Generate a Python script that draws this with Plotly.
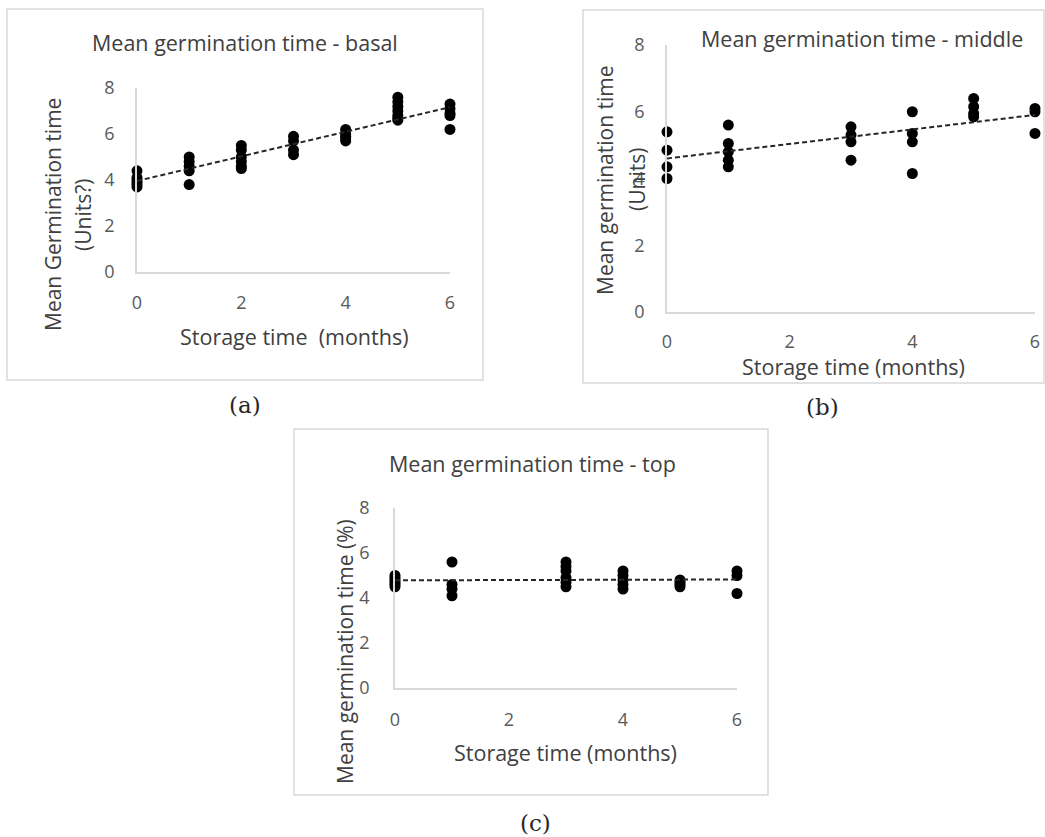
import numpy as np
import plotly.graph_objects as go

# ---------------- data ----------------
# (a) basal
basal_x = [0]*6 + [1]*5 + [2]*6 + [3]*4 + [4]*5 + [5]*7 + [6]*5
basal_y = [4.4, 4.1, 3.9, 3.8, 3.7, 4.0,
           5.0, 4.8, 4.6, 4.4, 3.8,
           5.5, 5.3, 5.0, 4.8, 4.6, 4.5,
           5.9, 5.7, 5.3, 5.1,
           6.2, 6.0, 5.9, 5.8, 5.7,
           7.6, 7.4, 7.2, 7.0, 6.8, 6.7, 6.6,
           7.3, 7.1, 6.9, 6.8, 6.2]
# (b) middle
middle_x = [0]*4 + [1]*5 + [3]*4 + [4]*4 + [5]*4 + [6]*3
middle_y = [5.4, 4.85, 4.35, 4.0,
            5.6, 5.05, 4.8, 4.55, 4.35,
            5.55, 5.3, 5.1, 4.55,
            6.0, 5.35, 5.1, 4.15,
            6.4, 6.15, 5.95, 5.85,
            6.1, 6.0, 5.35]
# (c) top
top_x = [0]*6 + [1]*4 + [3]*6 + [4]*5 + [5]*4 + [6]*3
top_y = [5.0, 4.9, 4.8, 4.7, 4.6, 4.5,
         5.6, 4.6, 4.4, 4.1,
         5.6, 5.4, 5.2, 4.9, 4.7, 4.5,
         5.2, 5.0, 4.8, 4.6, 4.4,
         4.8, 4.7, 4.6, 4.5,
         5.2, 5.0, 4.2]

x_ticks = [0, 2, 4, 6]
y_ticks = [0, 2, 4, 6, 8]

titles = ["Mean germination time - basal",
          "Mean germination time - middle",
          "Mean germination time - top"]
x_titles = ["Storage time  (months)", "Storage time (months)", "Storage time (months)"]
y_titles = [["Mean Germination time", "(Units?)"],
            ["Mean germination time", "(Units)"],
            ["Mean germination time (%)"]]
panel_labels = ["(a)", "(b)", "(c)"]

# ---------------- layout helpers ----------------
W, H = 1045, 837
def px(x):
    return x / W
def py(y):
    return 1 - y / H

FONT = "Open Sans"
TXT = "#404040"
TICK = "#595959"
AX = "#d9d9d9"

fig = go.Figure()

series = [(basal_x, basal_y), (middle_x, middle_y), (top_x, top_y)]
axes_ids = ["", "2", "3"]
for (xs, ys), aid in zip(series, axes_ids):
    fig.add_trace(go.Scatter(x=xs, y=ys, mode="markers",
                             marker=dict(color="black", size=11),
                             xaxis="x" + aid, yaxis="y" + aid,
                             cliponaxis=False, showlegend=False))
    slope, icpt = np.polyfit(xs, ys, 1)
    xl = np.array([min(xs), max(xs)], dtype=float)
    fig.add_trace(go.Scatter(x=xl, y=icpt + slope * xl, mode="lines",
                             line=dict(color="#262626", width=2, dash="5px,3px"),
                             xaxis="x" + aid, yaxis="y" + aid,
                             cliponaxis=False, showlegend=False))

# plot-area geometry in pixels: (left, right, bottom, top)
geo = [(137, 450, 272, 88), (667, 1035, 312, 45), (395, 737, 688, 508)]
ystand = [17, 17, 20]
xstand = [14, 13, 15]

layout = dict(width=W, height=H, margin=dict(l=0, r=0, t=0, b=0, autoexpand=False),
              paper_bgcolor="white", plot_bgcolor="white",
              font=dict(family=FONT, color=TXT))
for i, (aid, g) in enumerate(zip(["", "2", "3"], geo)):
    l, r, b, t = g
    layout["xaxis" + aid] = dict(domain=[px(l), px(r)], range=[0, 6],
                                 anchor="y" + aid, tickvals=x_ticks,
                                 showgrid=False, zeroline=False, automargin=False,
                                 showline=True, linecolor=AX, linewidth=1.5,
                                 ticks="", ticklabelstandoff=xstand[i],
                                 tickfont=dict(size=18, color=TICK, family=FONT),
                                 fixedrange=True)
    layout["yaxis" + aid] = dict(domain=[py(b), py(t)], range=[0, 8],
                                 anchor="x" + aid, tickvals=y_ticks,
                                 showgrid=False, zeroline=False, automargin=False,
                                 showline=True, linecolor=AX, linewidth=1.5,
                                 ticks="", ticklabelstandoff=ystand[i],
                                 tickfont=dict(size=18, color=TICK, family=FONT),
                                 fixedrange=True)
fig.update_layout(**layout)

# panel boxes
boxes = [(7, 9, 483, 380), (583, 10, 1044, 383), (294, 429, 768, 795)]
for x0, y0, x1, y1 in boxes:
    fig.add_shape(type="rect", xref="paper", yref="paper",
                  x0=px(x0), x1=px(x1), y0=py(y1), y1=py(y0),
                  line=dict(color=AX, width=1.5), fillcolor="rgba(0,0,0,0)")

# titles
title_pos = [(245, 43), (862, 38), (532, 463)]
xt_pos = [(294, 336), (853, 367), (565, 752)]
yt_pos = [[(53, 215), (83, 215)], [(605, 180), (637, 180)], [(345, 652)]]
lab_pos = [(245, 405), (822, 407), (535, 823)]

def ann(text, x, y, size, angle=0, color=TXT, family=FONT):
    fig.add_annotation(text=text, x=px(x), y=py(y), xref="paper", yref="paper",
                       showarrow=False, xanchor="center", yanchor="middle",
                       textangle=angle, font=dict(size=size, color=color, family=family))

for i in range(3):
    ann(titles[i], *title_pos[i], 21.5)
    ann(x_titles[i], *xt_pos[i], 21.5)
    for t, p in zip(y_titles[i], yt_pos[i]):
        ann(t, *p, 21, angle=-90)
    ann(panel_labels[i], *lab_pos[i], 23, color="#262626", family="DejaVu Serif")

fig.write_html("out.html", config={"displayModeBar": False},
               post_script="document.body.style.margin='0';document.body.style.overflow='hidden';")
